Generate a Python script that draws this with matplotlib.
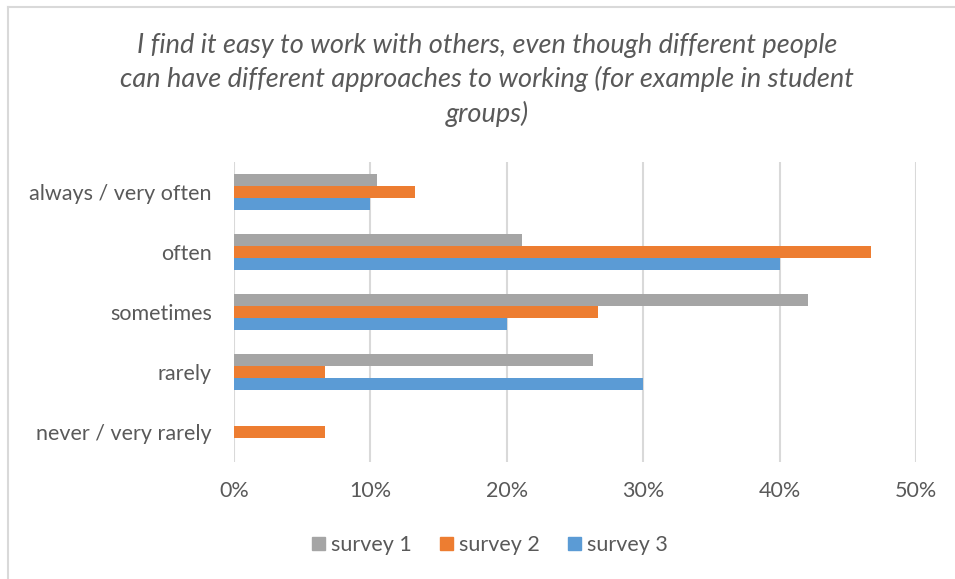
import numpy as np
import matplotlib.pyplot as plt
from matplotlib.lines import Line2D
from matplotlib.ticker import PercentFormatter

plt.rcParams['font.family'] = ['Lato', 'DejaVu Sans']

categories = ["always / very often", "often", "sometimes", "rarely", "never / very rarely"]
series_names = ["survey 1", "survey 2", "survey 3"]
survey1 = [10.5, 21.1, 42.1, 26.3, 0.0]
survey2 = [13.3, 46.7, 26.7, 6.7, 6.7]
survey3 = [10.0, 40.0, 20.0, 30.0, 0.0]
colors = ["#A5A5A5", "#ED7D31", "#5B9BD5"]
xticks = [0, 10, 20, 30, 40, 50]

title = ("I find it easy to work with others, even though different people\n"
         "can have different approaches to working (for example in student\n"
         "groups)")

text_col = "#595959"
grid_col = "#D9D9D9"

fig = plt.figure(figsize=(9.55, 5.79), dpi=100)
ax = fig.add_axes([234 / 955, 1 - 462 / 579, (916 - 234) / 955, 300 / 579])

y = np.arange(len(categories))
h = 0.2
for i, (vals, name) in enumerate(zip([survey1, survey2, survey3], series_names)):
    ax.barh(y + (i - 1) * h, vals, height=h, color=colors[i], label=name, zorder=3)

ax.set_xlim(0, 50)
ax.set_ylim(len(categories) - 0.5, -0.5)
ax.set_xticks(xticks)
ax.xaxis.set_major_formatter(PercentFormatter(decimals=0))
ax.set_yticks(y)
ax.set_yticklabels(categories)
ax.tick_params(axis='both', length=0, labelsize=15.5, colors=text_col)
ax.tick_params(axis='x', pad=14)
ax.tick_params(axis='y', pad=16)
ax.grid(axis='x', color=grid_col, linewidth=1.5, zorder=0)
for s in ax.spines.values():
    s.set_visible(False)

fig.text(487 / 955, 1 - 80 / 579, title, ha='center', va='center',
         fontsize=19.5, style='italic', color=text_col, linespacing=1.38)

handles = [plt.Rectangle((0, 0), 1, 1, color=c) for c in colors]
fig.legend(handles, series_names, loc='center', bbox_to_anchor=(490 / 955, 1 - 545 / 579),
           ncol=3, frameon=False, fontsize=15.5, handlelength=0.6, handleheight=0.6,
           handletextpad=0.3, columnspacing=1.3, labelcolor=text_col)

# chart border (top and left visible)
fig.add_artist(Line2D([8 / 955, 1], [1 - 7 / 579, 1 - 7 / 579], color=grid_col, lw=1.5))
fig.add_artist(Line2D([8 / 955, 8 / 955], [0, 1 - 7 / 579], color=grid_col, lw=1.5))

fig.savefig("out.png", dpi=100)
